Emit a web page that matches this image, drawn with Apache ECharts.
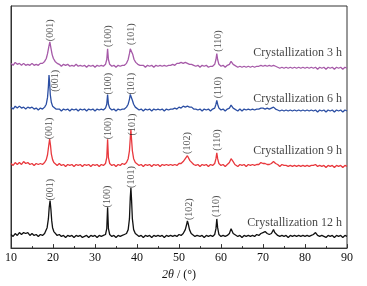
<!DOCTYPE html>
<html lang="en">
  <head>
    <meta charset="UTF-8" />
    <title>XRD - Crystallization</title>
    <script src="https://cdn.jsdelivr.net/npm/echarts@6/dist/echarts.min.js"></script>
    <style>
      body { margin: 0; background: #fff; }
      #chart { width: 367px; height: 286px; }
    </style>
  </head>
  <body>
    <div id="chart"></div>
  </body>
</html>
<script>
  // [2θ, intensity], patterns already stacked
  const curve12h = [[10,14],[10.5,12],[11,15],[11.5,13],[12,16],[12.5,14],[13,16],[13.5,15],[14,16],[14.5,13],[15,15],[15.5,13],[16,14],[16.5,12],[17,14],[17.5,13],[18,15],[18.3,17],[18.6,21],[18.9,30],[19.1,42],[19.3,49],[19.5,40],[19.7,28],[19.9,21],[20.2,17],[20.5,15],[21,13],[21.5,14],[22,12],[22.5,13],[23,11],[23.5,13],[24,12],[24.5,13],[25,11],[25.5,13],[26,12],[26.5,13],[27,11],[27.5,12],[28,13],[28.5,11],[29,13],[29.5,12],[30,13],[30.5,11],[31,13],[31.5,12],[32,13],[32.5,14],[32.8,20],[33.0,42],[33.2,20],[33.5,14],[34,12],[34.5,13],[35,11],[35.5,13],[36,12],[36.5,13],[37,14],[37.5,15],[37.9,19],[38.2,30],[38.4,52],[38.55,62],[38.7,50],[38.9,30],[39.2,19],[39.6,15],[40,14],[40.5,12],[41,13],[41.5,11],[42,13],[42.5,12],[43,13],[43.5,11],[44,13],[44.5,12],[45,13],[45.5,12],[46,13],[46.5,11],[47,13],[47.5,12],[48,13],[48.5,12],[49,13],[49.5,12],[50,14],[50.5,13],[51,15],[51.5,19],[51.8,24],[52.0,28],[52.2,25],[52.5,19],[52.9,15],[53.3,14],[53.8,12],[54.3,13],[55,12],[55.5,13],[56,11],[56.5,13],[57,12],[57.5,13],[58,12],[58.5,14],[58.8,20],[59.0,30],[59.2,21],[59.5,14],[60,12],[60.5,13],[61,12],[61.5,13],[62,15],[62.4,20],[62.6,19],[62.9,15],[63.3,13],[64,12],[64.5,13],[65,11],[65.5,13],[66,12],[66.5,13],[67,12],[67.5,13],[68,12],[68.5,14],[69,13],[69.5,15],[70,16],[70.5,17],[71,15],[71.5,14],[72,15],[72.5,19],[72.8,16],[73.2,14],[73.5,13],[74,12],[74.5,13],[75,12],[75.5,13],[76,11],[76.5,13],[77,12],[77.5,13],[78,12],[78.5,13],[79,12],[79.5,13],[80,12],[80.5,13],[81,12],[81.5,13],[82,14],[82.5,16],[83,13],[83.5,12],[84,13],[84.5,12],[85,11],[85.5,13],[86,12],[86.5,13],[87,11],[87.5,13],[88,12],[88.5,13],[89,11],[89.5,13],[90,12]];

  const curve9h = [[10,87],[10.5,85],[11,88],[11.5,86],[12,88],[12.5,86],[13,89],[13.5,87],[14,88],[14.5,86],[15,87],[15.5,85],[16,87],[16.5,86],[17,87],[17.5,86],[18,88],[18.4,91],[18.7,96],[19.0,106],[19.2,112],[19.4,106],[19.6,97],[19.9,91],[20.2,88],[20.6,87],[21,85],[21.5,87],[22,85],[22.5,86],[23,84],[23.5,86],[24,85],[24.5,86],[25,84],[25.5,86],[26,85],[26.5,86],[27,84],[27.5,86],[28,85],[28.5,86],[29,84],[29.5,86],[30,85],[30.5,86],[31,84],[31.5,86],[32,85],[32.5,87],[32.8,93],[33.0,112],[33.2,93],[33.5,87],[34,85],[34.5,86],[35,84],[35.5,86],[36,85],[36.5,87],[37,86],[37.5,88],[37.9,92],[38.2,100],[38.4,113],[38.55,122],[38.7,112],[38.9,100],[39.2,92],[39.6,88],[40,87],[40.5,85],[41,86],[41.5,84],[42,86],[42.5,85],[43,86],[43.5,84],[44,86],[44.5,85],[45,86],[45.5,84],[46,86],[46.5,85],[47,86],[47.5,85],[48,86],[48.5,85],[49,86],[49.5,85],[50,87],[50.5,87],[51,89],[51.5,92],[51.8,94],[52.0,95],[52.3,93],[52.6,90],[53,88],[53.5,86],[54,85],[54.5,86],[55,84],[55.5,86],[56,85],[56.5,86],[57,84],[57.5,86],[58,85],[58.5,87],[58.8,92],[59.0,98],[59.2,92],[59.5,87],[60,85],[60.5,86],[61,84],[61.5,86],[62,88],[62.4,92],[62.6,93],[62.9,89],[63.3,86],[64,84],[64.5,86],[65,85],[65.5,86],[66,84],[66.5,86],[67,85],[67.5,86],[68,85],[68.5,86],[69,86],[69.5,88],[70,87],[70.5,87],[71,86],[71.5,86],[72,87],[72.5,89],[73,87],[73.5,86],[74,84],[74.5,86],[75,85],[75.5,85],[76,84],[76.5,85],[77,84],[77.5,85],[78,84],[78.5,85],[79,84],[79.5,85],[80,84],[80.5,85],[81,84],[81.5,85],[82,85],[82.5,86],[83,84],[83.5,85],[84,84],[84.5,85],[85,83],[85.5,85],[86,84],[86.5,85],[87,83],[87.5,85],[88,84],[88.5,85],[89,83],[89.5,85],[90,84]];

  const curve6h = [[10,145],[10.5,143],[11,146],[11.5,144],[12,146],[12.5,144],[13,145],[13.5,143],[14,145],[14.5,144],[15,145],[15.5,143],[16,144],[16.5,142],[17,144],[17.5,143],[18,145],[18.4,148],[18.7,155],[18.9,166],[19.05,178],[19.2,170],[19.35,158],[19.6,150],[19.9,146],[20.3,144],[20.7,143],[21,142],[21.5,143],[22,141],[22.5,143],[23,142],[23.5,143],[24,141],[24.5,143],[25,142],[25.5,143],[26,141],[26.5,143],[27,142],[27.5,143],[28,141],[28.5,143],[29,142],[29.5,143],[30,141],[30.5,143],[31,142],[31.5,143],[32,142],[32.5,144],[32.8,148],[33.0,158],[33.2,148],[33.5,144],[34,142],[34.5,143],[35,141],[35.5,143],[36,142],[36.5,143],[37,143],[37.5,145],[37.9,148],[38.2,153],[38.4,158],[38.55,160],[38.7,157],[38.9,152],[39.2,148],[39.6,145],[40,144],[40.5,142],[41,143],[41.5,141],[42,143],[42.5,142],[43,143],[43.5,141],[44,143],[44.5,142],[45,143],[45.5,142],[46,143],[46.5,141],[47,143],[47.5,142],[48,143],[48.5,143],[49,144],[49.5,143],[50,145],[50.5,144],[51,146],[51.5,145],[52,146],[52.5,145],[53,145],[53.5,143],[54,143],[54.5,142],[55,143],[55.5,141],[56,143],[56.5,142],[57,143],[57.5,141],[58,143],[58.5,144],[58.8,148],[59.0,152],[59.2,148],[59.5,144],[60,142],[60.5,143],[61,141],[61.5,143],[62,144],[62.4,147],[62.6,147],[62.9,144],[63.3,142],[64,141],[64.5,143],[65,141],[65.5,143],[66,142],[66.5,143],[67,142],[67.5,143],[68,142],[68.5,143],[69,143],[69.5,144],[70,144],[70.5,143],[71,144],[71.5,143],[72,144],[72.5,145],[73,143],[73.5,142],[74,141],[74.5,142],[75,141],[75.5,142],[76,141],[76.5,142],[77,141],[77.5,142],[78,141],[78.5,142],[79,141],[79.5,142],[80,141],[80.5,142],[81,141],[81.5,142],[82,141],[82.5,142],[83,140],[83.5,142],[84,141],[84.5,142],[85,140],[85.5,142],[86,141],[86.5,142],[87,140],[87.5,142],[88,141],[88.5,142],[89,140],[89.5,142],[90,141]];

  const curve3h = [[10,190],[10.5,188],[11,191],[11.5,189],[12,190],[12.5,188],[13,190],[13.5,188],[14,189],[14.5,188],[15,190],[15.5,188],[16,189],[16.5,188],[17,190],[17.5,190],[18,192],[18.4,195],[18.7,200],[19.0,207],[19.25,212],[19.5,206],[19.8,199],[20.1,195],[20.5,192],[21,190],[21.5,189],[22,187],[22.5,189],[23,188],[23.5,189],[24,187],[24.5,188],[25,187],[25.5,189],[26,187],[26.5,188],[27,187],[27.5,188],[28,186],[28.5,188],[29,187],[29.5,188],[30,186],[30.5,188],[31,187],[31.5,188],[32,187],[32.5,189],[32.8,194],[33.0,205],[33.2,194],[33.5,189],[34,187],[34.5,188],[35,186],[35.5,188],[36,187],[36.5,188],[37,188],[37.5,190],[37.9,194],[38.2,200],[38.4,205],[38.6,207],[38.8,204],[39.0,199],[39.3,194],[39.7,191],[40.2,189],[40.7,188],[41,187],[41.5,188],[42,186],[42.5,188],[43,187],[43.5,188],[44,186],[44.5,188],[45,187],[45.5,188],[46,187],[46.5,188],[47,187],[47.5,188],[48,188],[48.5,189],[49,188],[49.5,190],[50,190],[50.5,191],[51,190],[51.5,191],[52,190],[52.5,189],[53,189],[53.5,188],[54,187],[54.5,188],[55,186],[55.5,188],[56,187],[56.5,188],[57,186],[57.5,187],[58,187],[58.5,189],[58.8,194],[59.0,200],[59.2,194],[59.5,189],[60,187],[60.5,188],[61,186],[61.5,188],[62,189],[62.4,192],[62.6,192],[62.9,189],[63.3,187],[64,186],[64.5,187],[65,186],[65.5,187],[66,186],[66.5,187],[67,186],[67.5,187],[68,186],[68.5,187],[69,187],[69.5,188],[70,187],[70.5,188],[71,187],[71.5,188],[72,187],[72.5,188],[73,187],[73.5,186],[74,185],[74.5,186],[75,185],[75.5,186],[76,185],[76.5,186],[77,185],[77.5,186],[78,185],[78.5,186],[79,185],[79.5,186],[80,185],[80.5,186],[81,185],[81.5,186],[82,185],[82.5,186],[83,184],[83.5,186],[84,185],[84.5,186],[85,184],[85.5,186],[86,185],[86.5,186],[87,184],[87.5,186],[88,185],[88.5,186],[89,184],[89.5,186],[90,185]];

  // peak labels: [2θ, y, text]
  const peakLabels = [
    [19.3, 224, "(001)"], [33.1, 218, "(100)"], [38.6, 220, "(101)"], [59.3, 213, "(110)"],
    [20.5, 172, "(001)"], [33.1, 169, "(100)"], [38.6, 169, "(101)"], [59.3, 165, "(110)"],
    [19.1, 123, "(001)"], [33.1, 123, "(100)"], [39.0, 127, "(101)"], [52.1, 108, "(102)"], [59.1, 111, "(110)"],
    [19.3, 60, "(001)"], [33.0, 53, "(100)"], [38.6, 73, "(101)"], [52.4, 40, "(102)"], [59.0, 43, "(110)"],
  ];

  // sample names: [2θ of right edge, y, text]
  const sampleNames = [
    [88.8, 201, "Crystallization 3 h"],
    [88.8, 154, "Crystallization 6 h"],
    [88.8, 100, "Crystallization 9 h"],
    [88.8, 26, "Crystallization 12 h"],
  ];

  const curves = [curve3h, curve6h, curve9h, curve12h];
  const colors = ["#a65aa8", "#2b4ea3", "#e8383d", "#111111"];

  const serif = "'Liberation Serif', 'DejaVu Serif', serif";

  const chart = echarts.init(document.getElementById("chart"));

  const series = curves.map((c, i) => ({
    type: "line",
    data: c,
    symbol: "none",
    lineStyle: { color: colors[i], width: 1.3 },
    silent: true,
    z: 2,
  }));

  series.push({
    type: "scatter",
    symbolSize: 0,
    data: peakLabels.map((p) => ({ value: [p[0], p[1]], name: p[2] })),
    label: {
      show: true,
      position: "inside",
      rotate: 90,
      formatter: (p) => p.name,
      fontFamily: serif,
      fontSize: 10,
      color: "#222",
    },
    z: 3,
  });

  series.push({
    type: "scatter",
    symbolSize: 0,
    data: sampleNames.map((p) => ({ value: [p[0], p[1]], name: p[2] })),
    label: {
      show: true,
      position: "left",
      distance: 0,
      formatter: (p) => p.name,
      fontFamily: serif,
      fontSize: 12,
      color: "#111",
    },
    z: 3,
  });

  const option = {
    animation: false,
    grid: {
      left: 11,
      right: 20,
      top: 6,
      bottom: 31,
      show: true,
      borderColor: "#333",
      borderWidth: 1,
      backgroundColor: "transparent",
    },
    xAxis: {
      type: "value",
      min: 10,
      max: 90,
      interval: 10,
      axisLine: { show: true, lineStyle: { color: "#333", width: 1 } },
      axisTick: { show: true, inside: true, length: 4, lineStyle: { color: "#333" } },
      minorTick: { show: true, splitNumber: 2, length: 2, lineStyle: { color: "#333" } },
      splitLine: { show: false },
      axisLabel: { fontFamily: serif, fontSize: 12, color: "#111", margin: 4 },
      name: "{i|2θ} / (°)",
      nameLocation: "middle",
      nameGap: 16,
      nameTextStyle: {
        fontFamily: serif,
        fontSize: 12,
        color: "#111",
        rich: { i: { fontFamily: serif, fontSize: 12, fontStyle: "italic", color: "#111" } },
      },
    },
    yAxis: {
      type: "value",
      min: 0,
      max: 249,
      axisLine: { show: true, lineStyle: { color: "#333" } },
      axisTick: { show: false },
      axisLabel: { show: false },
      splitLine: { show: false },
    },
    series: series,
  };
  chart.setOption(option);
</script>
